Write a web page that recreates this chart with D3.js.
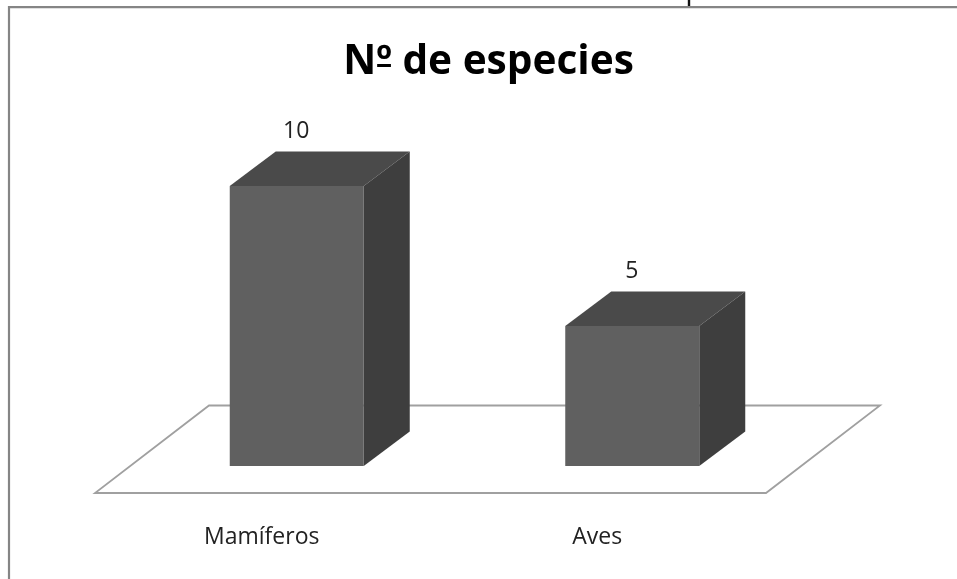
<!DOCTYPE html>
<html><head><meta charset="utf-8">
<script src="https://cdnjs.cloudflare.com/ajax/libs/d3/7.8.5/d3.min.js"></script>
<style>html,body{margin:0;padding:0;background:#fff;overflow:hidden}svg{display:block;filter:blur(0.4px)}text{font-family:"Open Sans",sans-serif}</style>
</head><body>
<script>
const categories = ["Mamíferos", "Aves"];
const values = [10, 5];
const chartTitle = "Nº de especies";

const W = 957, H = 579;
const svg = d3.select("body").append("svg").attr("width", W).attr("height", H);
svg.append("rect").attr("width", W).attr("height", H).attr("fill", "#fff");

// frame
svg.append("path").attr("d", `M9,${H + 5}V7.2H${W + 5}`).attr("fill", "none").attr("stroke", "#858585").attr("stroke-width", 2.2);
svg.append("line").attr("x1", 689).attr("x2", 689).attr("y1", -3).attr("y2", 6).attr("stroke", "#111").attr("stroke-width", 2.4);

// scales
const x = d3.scaleBand().domain(categories).range([95, 766]);
const y = d3.scaleLinear().domain([0, 10]).range([466, 186]);
const floorDepth = { dx: 114, dy: -87.5 };
const floorY = 493;
const barW = 134, depth = { dx: 46, dy: -34.5 };
const barOffset = 34;

// floor
const x0 = x.range()[0], x1 = x.range()[1];
svg.append("path")
  .attr("d", d3.line()([[x0, floorY], [x1, floorY], [x1 + floorDepth.dx, floorY + floorDepth.dy], [x0 + floorDepth.dx, floorY + floorDepth.dy]]) + "Z")
  .attr("fill", "#fff").attr("stroke", "#a0a0a0").attr("stroke-width", 1.8).attr("stroke-linejoin", "miter");

// bars
const line = d3.line();
const bars = svg.selectAll("g.bar").data(categories.map((c, i) => ({ c, v: values[i] }))).join("g").attr("class", "bar");
const left = d => x(d.c) + x.bandwidth() / 2 + barOffset - barW / 2;
bars.append("path").attr("fill", "#4a4a4a").attr("d", d => {
  const l = left(d), t = y(d.v);
  return line([[l, t], [l + barW, t], [l + barW + depth.dx, t + depth.dy], [l + depth.dx, t + depth.dy]]) + "Z";
});
bars.append("path").attr("fill", "#3e3e3e").attr("d", d => {
  const r = left(d) + barW, t = y(d.v), b = y(0);
  return line([[r, t], [r + depth.dx, t + depth.dy], [r + depth.dx, b + depth.dy], [r, b]]) + "Z";
});
bars.append("rect").attr("fill", "#606060")
  .attr("x", left).attr("y", d => y(d.v)).attr("width", barW).attr("height", d => y(0) - y(d.v));

// value labels
bars.append("text").text(d => d.v)
  .attr("x", d => left(d) + barW / 2 - 0.5)
  .attr("y", d => y(d.v) - 48)
  .attr("text-anchor", "middle").attr("font-size", 23).attr("fill", "#222");

// category labels
svg.selectAll("text.cat").data(categories).join("text").attr("class", "cat")
  .text(d => d)
  .attr("x", d => x(d) + x.bandwidth() / 2 - 1)
  .attr("y", 544)
  .attr("text-anchor", "middle").attr("font-size", 23).attr("fill", "#222");

// title
const title = svg.append("text").text(chartTitle).attr("x", 488.5).attr("y", 73.5)
  .attr("text-anchor", "middle").attr("font-size", 40.6).attr("font-weight", 700).attr("fill", "#000");

// the reference's ordinal sign is underlined; the font's is not, so add the bar under it
const ordBox = title.node().getExtentOfChar(chartTitle.indexOf("º"));
svg.append("rect").attr("x", ordBox.x + 1).attr("width", ordBox.width - 2)
  .attr("y", 64).attr("height", 3).attr("fill", "#000");
</script>
</body></html>
